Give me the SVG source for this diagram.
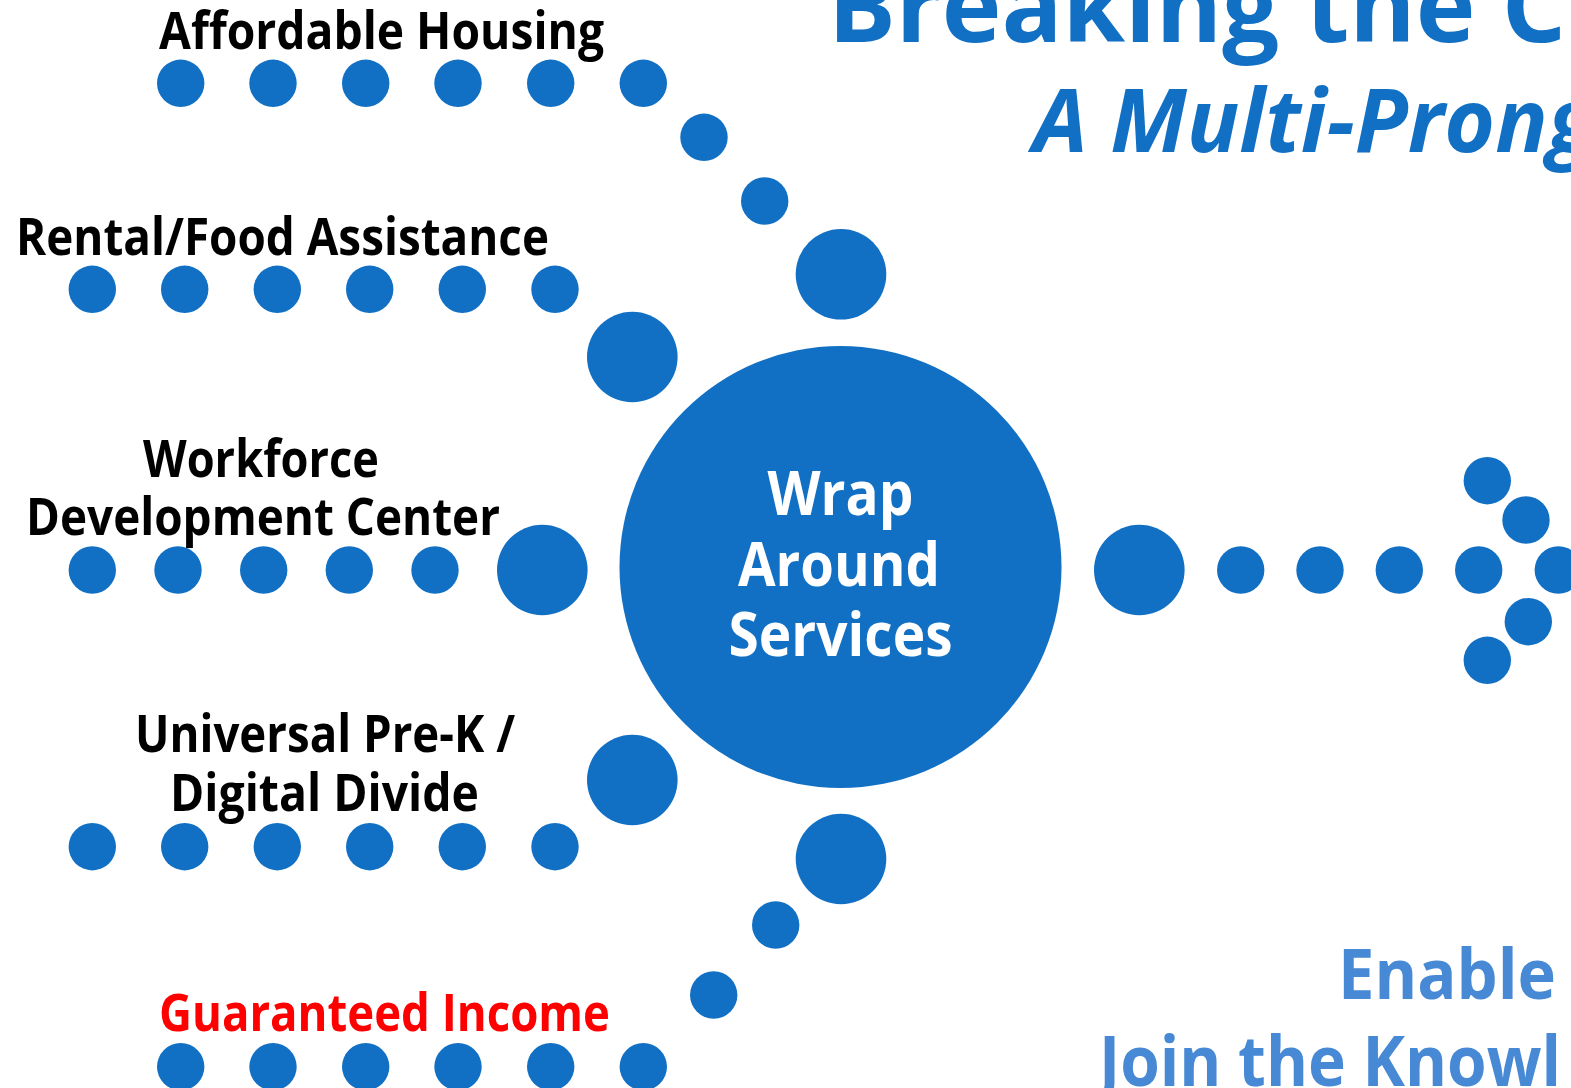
<svg xmlns="http://www.w3.org/2000/svg" width="1571" height="1088" viewBox="0 0 1571 1088">
<style>
.dot{fill:#1170C4}
.lbl{font-family:"Open Sans","Noto Sans","Liberation Sans",sans-serif;font-weight:700;font-size:52px;fill:#000}
.red{fill:#FF0000}
.ctr{font-family:"Open Sans","Noto Sans","Liberation Sans",sans-serif;font-weight:700;font-size:61px;fill:#fff;text-anchor:middle}
.title{font-family:"Open Sans","Noto Sans","Liberation Sans",sans-serif;font-weight:700;font-size:101px;fill:#1170C4}
.sub{font-family:"Open Sans","Noto Sans","Liberation Sans",sans-serif;font-weight:700;font-style:italic;font-size:87px;fill:#1170C4}
.cta{font-family:"Open Sans","Noto Sans","Liberation Sans",sans-serif;font-weight:700;font-size:69px;fill:#4889D6}
</style>
<rect width="1571" height="1088" fill="#fff"/>
<g id="titles">
<text class="title" x="828" y="42">Breaking the C</text>
<text class="sub" x="1033" y="152">A Multi-Prong</text>
<text class="cta" x="1338" y="999" textLength="218" lengthAdjust="spacingAndGlyphs">Enable</text>
<text class="cta" x="1099" y="1086" textLength="462" lengthAdjust="spacingAndGlyphs">Join the Knowl</text>
</g>
<g id="connectors">
<g id="path-affordable">
<circle class="dot" cx="180.7" cy="83.3" r="23.7"/>
<circle class="dot" cx="273" cy="83.3" r="23.7"/>
<circle class="dot" cx="365.7" cy="83.3" r="23.7"/>
<circle class="dot" cx="458" cy="83.3" r="23.7"/>
<circle class="dot" cx="550.7" cy="83.3" r="23.7"/>
<circle class="dot" cx="643.3" cy="83.3" r="23.7"/>
<circle class="dot" cx="704" cy="137.3" r="23.7"/>
<circle class="dot" cx="764.7" cy="201" r="23.7"/>
<circle class="dot" cx="841" cy="274.3" r="45.3"/>
</g>
<g id="path-rental">
<circle class="dot" cx="92.3" cy="289.3" r="23.7"/>
<circle class="dot" cx="184.7" cy="289.3" r="23.7"/>
<circle class="dot" cx="277.3" cy="289.3" r="23.7"/>
<circle class="dot" cx="369.7" cy="289.3" r="23.7"/>
<circle class="dot" cx="462.3" cy="289.3" r="23.7"/>
<circle class="dot" cx="555" cy="289.3" r="23.7"/>
<circle class="dot" cx="632.3" cy="357" r="45.3"/>
</g>
<g id="path-workforce">
<circle class="dot" cx="92.3" cy="570" r="23.7"/>
<circle class="dot" cx="178" cy="570" r="23.7"/>
<circle class="dot" cx="263.7" cy="570" r="23.7"/>
<circle class="dot" cx="349.3" cy="570" r="23.7"/>
<circle class="dot" cx="435" cy="570" r="23.7"/>
<circle class="dot" cx="542.3" cy="570" r="45.3"/>
</g>
<g id="path-prek">
<circle class="dot" cx="92.3" cy="846.7" r="23.7"/>
<circle class="dot" cx="184.7" cy="846.7" r="23.7"/>
<circle class="dot" cx="277.3" cy="846.7" r="23.7"/>
<circle class="dot" cx="369.7" cy="846.7" r="23.7"/>
<circle class="dot" cx="462.3" cy="846.7" r="23.7"/>
<circle class="dot" cx="555" cy="846.7" r="23.7"/>
<circle class="dot" cx="632.3" cy="780" r="45.3"/>
</g>
<g id="path-income">
<circle class="dot" cx="180.7" cy="1066.7" r="23.7"/>
<circle class="dot" cx="273" cy="1066.7" r="23.7"/>
<circle class="dot" cx="365.7" cy="1066.7" r="23.7"/>
<circle class="dot" cx="458" cy="1066.7" r="23.7"/>
<circle class="dot" cx="550.7" cy="1066.7" r="23.7"/>
<circle class="dot" cx="643.3" cy="1066.7" r="23.7"/>
<circle class="dot" cx="713.7" cy="995" r="23.7"/>
<circle class="dot" cx="775.7" cy="925" r="23.7"/>
<circle class="dot" cx="841" cy="859" r="45.3"/>
</g>
<g id="path-out">
<circle class="dot" cx="1139.3" cy="570" r="45.3"/>
<circle class="dot" cx="1240.7" cy="570" r="23.7"/>
<circle class="dot" cx="1320" cy="570" r="23.7"/>
<circle class="dot" cx="1399.3" cy="570" r="23.7"/>
<circle class="dot" cx="1478.7" cy="570" r="23.7"/>
<circle class="dot" cx="1558.3" cy="570" r="23.7"/>
<circle class="dot" cx="1487.3" cy="480.7" r="23.7"/>
<circle class="dot" cx="1526" cy="520" r="23.7"/>
<circle class="dot" cx="1528.3" cy="621.7" r="23.7"/>
<circle class="dot" cx="1487.3" cy="660.3" r="23.7"/>
</g>
</g>
<g id="node-affordable">
<text class="lbl" x="159" y="49.3" textLength="445" lengthAdjust="spacingAndGlyphs">Affordable Housing</text>
</g>
<g id="node-rental">
<text class="lbl" x="16" y="255" textLength="533" lengthAdjust="spacingAndGlyphs">Rental/Food Assistance</text>
</g>
<g id="node-workforce">
<text class="lbl" x="143" y="476.7" textLength="236" lengthAdjust="spacingAndGlyphs">Workforce</text>
<text class="lbl" x="26" y="535" textLength="474" lengthAdjust="spacingAndGlyphs">Development Center</text>
</g>
<g id="node-prek">
<text class="lbl" x="135" y="752.3" textLength="380" lengthAdjust="spacingAndGlyphs">Universal Pre-K /</text>
<text class="lbl" x="170" y="810.7" textLength="309" lengthAdjust="spacingAndGlyphs">Digital Divide</text>
</g>
<g id="node-income">
<text class="lbl red" x="159" y="1030.7" textLength="451" lengthAdjust="spacingAndGlyphs">Guaranteed Income</text>
</g>
<g id="node-center">
<circle class="dot" cx="840.5" cy="567" r="221"/>
<text class="ctr" x="840.5" y="515" textLength="146" lengthAdjust="spacingAndGlyphs">Wrap</text>
<text class="ctr" x="839" y="585.7" textLength="202" lengthAdjust="spacingAndGlyphs">Around</text>
<text class="ctr" x="840.5" y="655.7" textLength="224" lengthAdjust="spacingAndGlyphs">Services</text>
</g>
</svg>
